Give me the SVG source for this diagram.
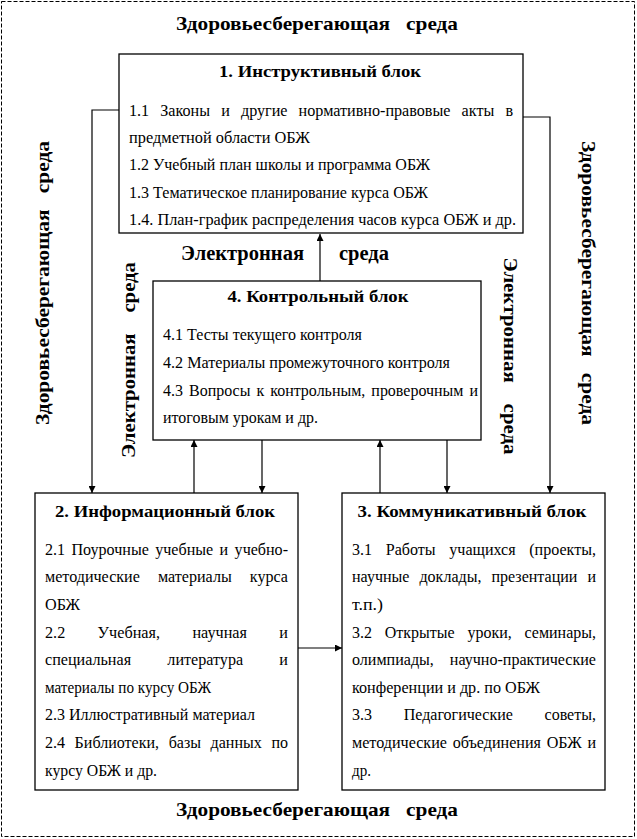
<svg xmlns="http://www.w3.org/2000/svg" width="637" height="839" viewBox="0 0 637 839" font-family="'Liberation Serif', 'Times New Roman', serif">
<defs>
<marker id="ah" viewBox="0 0 10 10" refX="10" refY="5" markerWidth="7" markerHeight="7" markerUnits="userSpaceOnUse" orient="auto">
<path d="M0,0 L10,5 L0,10 z" fill="#000"/>
</marker>
<style>
.box{fill:#fff;stroke:#000;stroke-width:1.3}
.t{font-family:'Liberation Serif','Times New Roman',serif;font-size:16px;fill:#000}
.h{font-family:'Liberation Serif','Times New Roman',serif;font-size:17px;font-weight:bold;fill:#000;text-anchor:middle}
.env{font-family:'Liberation Serif','Times New Roman',serif;font-size:19px;font-weight:bold;fill:#000;white-space:pre}
.c{fill:none;stroke:#000;stroke-width:1.2;marker-end:url(#ah)}
</style>
</defs>
<rect width="637" height="839" fill="#fff"/>
<rect x="1.5" y="1.5" width="633" height="835" fill="none" stroke="#000" stroke-width="1" stroke-dasharray="4,2"/>

<g id="env-labels">
<text class="env" x="317" y="30" text-anchor="middle" textLength="282" lengthAdjust="spacingAndGlyphs">Здоровьесберегающая   среда</text>
<text class="env" x="317" y="816" text-anchor="middle" textLength="282" lengthAdjust="spacingAndGlyphs">Здоровьесберегающая   среда</text>
<text class="env" transform="translate(49,283) rotate(-90)" text-anchor="middle" textLength="284" lengthAdjust="spacingAndGlyphs">Здоровьесберегающая   среда</text>
<text class="env" transform="translate(582,283) rotate(90)" text-anchor="middle" textLength="284" lengthAdjust="spacingAndGlyphs">Здоровьесберегающая   среда</text>
<text class="env" transform="translate(135,360) rotate(-90)" text-anchor="middle" textLength="196" lengthAdjust="spacingAndGlyphs">Электронная    среда</text>
<text class="env" transform="translate(504,356) rotate(90)" text-anchor="middle" textLength="197" lengthAdjust="spacingAndGlyphs">Электронная    среда</text>
<text class="env" x="181" y="260" style="font-size:20.5px">Электронная<tspan x="339">среда</tspan></text>
</g>

<g id="connectors">
<path class="c" d="M119,110 H92 V493"/>
<path class="c" d="M523,117 H550 V493"/>
<path class="c" d="M320,281 V234"/>
<path class="c" d="M194,493 V440"/>
<path class="c" d="M262,440 V493"/>
<path class="c" d="M380,493 V440"/>
<path class="c" d="M447,440 V493"/>
<path class="c" d="M298,648 H342"/>
</g>

<g id="block1">
<rect class="box" x="119" y="54" width="404" height="179"/>
<text class="h" x="320" y="77" textLength="202" lengthAdjust="spacingAndGlyphs">1. Инструктивный блок</text>
<text class="t" x="129" y="116" textLength="384" lengthAdjust="spacingAndGlyphs" style="word-spacing:7px">1.1 Законы и другие нормативно-правовые акты в</text>
<text class="t" x="129" y="143" textLength="181" lengthAdjust="spacingAndGlyphs">предметной области ОБЖ</text>
<text class="t" x="129" y="170" textLength="301" lengthAdjust="spacingAndGlyphs">1.2 Учебный план школы и программа ОБЖ</text>
<text class="t" x="129" y="198" textLength="299" lengthAdjust="spacingAndGlyphs">1.3 Тематическое планирование курса ОБЖ</text>
<text class="t" x="129" y="225" textLength="387" lengthAdjust="spacingAndGlyphs">1.4. План-график распределения часов курса ОБЖ и др.</text>
</g>

<g id="block4">
<rect class="box" x="153" y="281" width="328" height="159"/>
<text class="h" x="318" y="302" textLength="181" lengthAdjust="spacingAndGlyphs">4. Контрольный блок</text>
<text class="t" x="163" y="340" textLength="199" lengthAdjust="spacingAndGlyphs">4.1 Тесты текущего контроля</text>
<text class="t" x="163" y="368" textLength="287" lengthAdjust="spacingAndGlyphs">4.2 Материалы промежуточного контроля</text>
<text class="t" x="163" y="396" textLength="315" lengthAdjust="spacingAndGlyphs" style="word-spacing:2px">4.3 Вопросы к контрольным, проверочным и</text>
<text class="t" x="163" y="423" textLength="155" lengthAdjust="spacingAndGlyphs">итоговым урокам и др.</text>
</g>

<g id="block2">
<rect class="box" x="35" y="493" width="263" height="297"/>
<text class="h" x="165" y="517" textLength="220" lengthAdjust="spacingAndGlyphs">2. Информационный блок</text>
<text class="t" x="45" y="555" textLength="243" lengthAdjust="spacingAndGlyphs" style="word-spacing:2.4px">2.1 Поурочные учебные и учебно-</text>
<text class="t" x="45" y="582" textLength="243" lengthAdjust="spacingAndGlyphs" style="word-spacing:14px">методические материалы курса</text>
<text class="t" x="45" y="610" textLength="35" lengthAdjust="spacingAndGlyphs">ОБЖ</text>
<text class="t" x="45" y="638" textLength="243" lengthAdjust="spacingAndGlyphs" style="word-spacing:28px">2.2 Учебная, научная и</text>
<text class="t" x="45" y="665" textLength="243" lengthAdjust="spacingAndGlyphs" style="word-spacing:32px">специальная литература и</text>
<text class="t" x="45" y="693" textLength="166" lengthAdjust="spacingAndGlyphs">материалы по курсу ОБЖ</text>
<text class="t" x="45" y="720" textLength="210" lengthAdjust="spacingAndGlyphs">2.3 Иллюстративный материал</text>
<text class="t" x="45" y="748" textLength="243" lengthAdjust="spacingAndGlyphs" style="word-spacing:5.5px">2.4 Библиотеки, базы данных по</text>
<text class="t" x="45" y="776" textLength="112" lengthAdjust="spacingAndGlyphs">курсу ОБЖ и др.</text>
</g>

<g id="block3">
<rect class="box" x="342" y="493" width="263" height="297"/>
<text class="h" x="472" y="517" textLength="229" lengthAdjust="spacingAndGlyphs">3. Коммуникативный блок</text>
<text class="t" x="352" y="555" textLength="244" lengthAdjust="spacingAndGlyphs" style="word-spacing:9.6px">3.1 Работы учащихся (проекты,</text>
<text class="t" x="352" y="582" textLength="244" lengthAdjust="spacingAndGlyphs" style="word-spacing:6px">научные доклады, презентации и</text>
<text class="t" x="352" y="610" textLength="31" lengthAdjust="spacingAndGlyphs">т.п.)</text>
<text class="t" x="352" y="638" textLength="244" lengthAdjust="spacingAndGlyphs" style="word-spacing:8.8px">3.2 Открытые уроки, семинары,</text>
<text class="t" x="352" y="665" textLength="244" lengthAdjust="spacingAndGlyphs" style="word-spacing:11.9px">олимпиады, научно-практические</text>
<text class="t" x="352" y="693" textLength="188" lengthAdjust="spacingAndGlyphs">конференции и др. по ОБЖ</text>
<text class="t" x="352" y="720" textLength="244" lengthAdjust="spacingAndGlyphs" style="word-spacing:27.6px">3.3 Педагогические советы,</text>
<text class="t" x="352" y="748" textLength="244" lengthAdjust="spacingAndGlyphs" style="word-spacing:1.7px">методические объединения ОБЖ и</text>
<text class="t" x="352" y="776" textLength="19" lengthAdjust="spacingAndGlyphs">др.</text>
</g>
</svg>
